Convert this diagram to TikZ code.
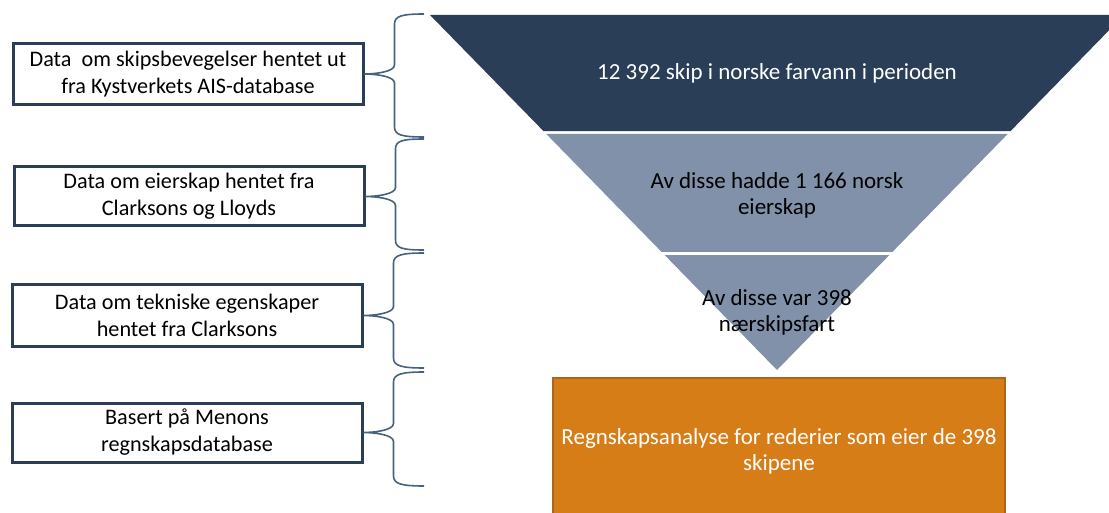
\documentclass[tikz,border=0pt]{standalone}
\usepackage{fontspec}
\setmainfont{Carlito}
\usetikzlibrary{positioning,calc}
\definecolor{navyband}{HTML}{2A3F57}
\definecolor{greyband}{HTML}{8091A9}
\definecolor{rustfill}{HTML}{D67D18}
\definecolor{rustline}{HTML}{AE6616}
\definecolor{braceblue}{HTML}{46627F}

\tikzset{
  srcbox/.style={draw=navyband, line width=3pt, fill=white, minimum width=350pt, minimum height=61pt, align=center, inner sep=2pt},
  bracel/.style={draw=braceblue, line width=1.6pt},
  bandtext/.style={align=center, inner sep=0pt, font=\fontsize{23}{26}\selectfont},
}

\begin{document}
\begin{tikzpicture}[x=1pt, y=-1pt, font=\fontsize{22.2}{27}\selectfont]
\useasboundingbox (0,0) rectangle (1109,513);
\clip (0,0) rectangle (1109,513);

% kilder
\node[srcbox] (box1) at (188,74)  {Data\ \ om skipsbevegelser hentet ut\\fra Kystverkets AIS-database};
\node[srcbox, minimum height=59pt] (box2) at (189,196.5) {Data om eierskap hentet fra\\Clarksons og Lloyds};
\node[srcbox] (box3) at (187,315.5) {Data om tekniske egenskaper\\hentet fra Clarksons};
\node[srcbox, minimum height=59pt] (box4) at (187,432.5) {Basert på Menons\\regnskapsdatabase};

% klammer
\coordinate (bt1) at (424,14);  \coordinate (bb1) at (424,137);
\coordinate (bt2) at (424,139); \coordinate (bb2) at (424,250);
\coordinate (bt3) at (424,253); \coordinate (bb3) at (424,368);
\coordinate (bt4) at (424,372); \coordinate (bb4) at (424,486);

\foreach \i in {1,...,4}
  \draw[bracel] let \p1=(bt\i), \p2=(bb\i), \p3=(box\i.east) in
    (\p1) .. controls (\x1-22pt,\y1) and (\x3+30pt,\y1-2pt) .. (\x3+30pt,\y1-10pt)
    -- (\x3+30pt,\y3+9pt) .. controls (\x3+30pt,\y3+2pt) and (\x3+10pt,\y3) .. (\p3)
    .. controls (\x3+10pt,\y3) and (\x3+30pt,\y3-2pt) .. (\x3+30pt,\y3-9pt)
    -- (\x3+30pt,\y2+10pt) .. controls (\x3+30pt,\y2+2pt) and (\x1-22pt,\y2) .. (\p2);

% trakt
\coordinate (ftl) at (430,15);
\coordinate (ftr) at (1124,15);
\coordinate (fap) at (777,370);
\fill[navyband] (ftl) -- (ftr) -- ($(ftr)!.3268!(fap)$) -- ($(ftl)!.3268!(fap)$) -- cycle;
\fill[greyband] ($(ftl)!.3352!(fap)$) -- ($(ftr)!.3352!(fap)$) -- ($(ftr)!.6676!(fap)$) -- ($(ftl)!.6676!(fap)$) -- cycle;
\fill[greyband] ($(ftl)!.6761!(fap)$) -- ($(ftr)!.6761!(fap)$) -- (fap) -- cycle;

\node[bandtext, text=white] (lvl1) at (777,73) {12 392 skip i norske farvann i perioden};
\node[bandtext] (lvl2) at (777,195) {Av disse hadde 1 166 norsk\\eierskap};
\node[bandtext] (lvl3) at (777,312) {Av disse var 398\\nærskipsfart};

\node[draw=rustline, line width=2.5pt, fill=rustfill, text=white, minimum width=452pt, minimum height=146pt, align=center, font=\fontsize{23}{26}\selectfont] (acc) at (779,451)
  {Regnskapsanalyse for rederier som eier de 398\\skipene};
\end{tikzpicture}
\end{document}
